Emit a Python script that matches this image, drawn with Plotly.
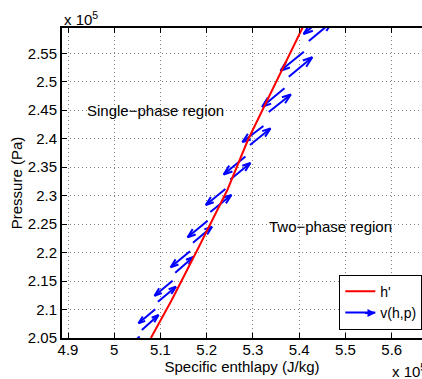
import plotly.graph_objects as go

SCALE = 1e5  # axis values are shown in units of 10^5

# Saturated-liquid enthalpy line h'(p) (units of 1e5)
p_sat = [2.05, 2.1167, 2.2045, 2.3099, 2.3977, 2.5939, 2.60]
h_sat = [5.0792, 5.1243, 5.1796, 5.2446, 5.2890, 5.4065, 5.4102]

# Vector field v(h,p): arrow tail positions and components (units of 1e5)
q_h = [5.0550, 5.0886, 5.0597, 5.1261, 5.0944, 5.1638, 5.1319, 5.2019, 5.1703,
       5.2403, 5.2078, 5.2836, 5.2511, 5.3226, 5.2934, 5.3681, 5.3341, 5.4100,
       5.3775, 5.4592, 5.4208]
q_p = [2.0526, 2.1004, 2.0640, 2.1506, 2.1138, 2.2024, 2.1647, 2.2560, 2.2174,
       2.3117, 2.2713, 2.3688, 2.3284, 2.4223, 2.3890, 2.4885, 2.4469, 2.5528,
       2.5089, 2.6173, 2.5716]
q_dh = [-0.0360, -0.0362, 0.0360, -0.0390, 0.0390, -0.0418, 0.0390, -0.0433, 0.0412,
        -0.0423, 0.0455, -0.0470, 0.0433, -0.0455, 0.0444, -0.0483, 0.0477, -0.0505,
        0.0507, -0.0498, 0.0509]
q_dp = [-0.0250, -0.0246, 0.0263, -0.0263, 0.0263, -0.0281, 0.0276, -0.0292, 0.0281,
        -0.0281, 0.0299, -0.0316, 0.0290, -0.0281, 0.0290, -0.0323, 0.0307, -0.0334,
        0.0341, -0.0334, 0.0342]

x_ticks = [4.9, 5.0, 5.1, 5.2, 5.3, 5.4, 5.5, 5.6]
x_ticklabels = ["4.9", "5", "5.1", "5.2", "5.3", "5.4", "5.5", "5.6"]
y_ticks = [2.05, 2.10, 2.15, 2.20, 2.25, 2.30, 2.35, 2.40, 2.45, 2.50, 2.55]
y_ticklabels = ["2.05", "2.1", "2.15", "2.2", "2.25", "2.3", "2.35", "2.4", "2.45", "2.5", "2.55"]

x_range = [4.887, 5.6655]
y_range = [2.05, 2.5944]

# Build quiver line segments (MATLAB-style open arrowheads)
alpha, beta = 0.33, 0.33
qx, qy = [], []
for h, p, u, v in zip(q_h, q_p, q_dh, q_dp):
    x1, y1 = h + u, p + v
    b1 = (x1 - alpha * (u + beta * v), y1 - alpha * (v - beta * u))
    b2 = (x1 - alpha * (u - beta * v), y1 - alpha * (v + beta * u))
    qx += [h, x1, None, b1[0], x1, b2[0], None]
    qy += [p, y1, None, b1[1], y1, b2[1], None]

fig = go.Figure()
fig.add_trace(go.Scatter(
    x=[x * SCALE if x is not None else None for x in qx],
    y=[y * SCALE if y is not None else None for y in qy],
    mode="lines", line=dict(color="#0000ff", width=2),
    name="v(h,p)", legendrank=2, hoverinfo="skip"))
fig.add_trace(go.Scatter(
    x=[h * SCALE for h in h_sat], y=[p * SCALE for p in p_sat],
    mode="lines", line=dict(color="#ff0000", width=2),
    name="h'", legendrank=1))

font = dict(family="Liberation Sans, Arial, sans-serif", size=15, color="black")
legend_font = dict(family="Liberation Sans, Arial, sans-serif", size=14, color="black")

axis_common = dict(
    showline=True, linecolor="black", linewidth=2,
    ticks="inside", ticklen=5, tickcolor="black", tickwidth=1,
    showgrid=True, gridcolor="#808080", gridwidth=1, griddash="1px,3px",
    zeroline=False, tickfont=font, automargin=False,
)

fig.update_layout(
    width=422, height=379,
    margin=dict(l=62, r=0, t=28, b=41, autoexpand=False),
    paper_bgcolor="white", plot_bgcolor="white",
    font=font,
    xaxis=dict(range=[v * SCALE for v in x_range],
               tickvals=[v * SCALE for v in x_ticks], ticktext=x_ticklabels,
               mirror="ticks", ticklabelstandoff=-3,
               title=dict(text="Specific enthlapy (J/kg)", font=font, standoff=2),
               **axis_common),
    yaxis=dict(range=[v * SCALE for v in y_range],
               tickvals=[v * SCALE for v in y_ticks], ticktext=y_ticklabels,
               mirror=False,
               title=dict(text="Pressure (Pa)", font=font, standoff=2),
               **axis_common),
    legend=dict(x=0.7703, y=0.2042, xanchor="left", yanchor="top",
                bgcolor="white", bordercolor="black", borderwidth=1,
                font=legend_font, itemwidth=30, tracegroupgap=0),
    showlegend=True,
)

fig.add_annotation(text="Single\u2212phase region", x=4.936 * SCALE, y=2.45 * SCALE,
                   xref="x", yref="y", xanchor="left", yanchor="middle",
                   showarrow=False, font=font)
fig.add_annotation(text="Two\u2212phase region", x=5.33 * SCALE, y=2.246 * SCALE,
                   xref="x", yref="y", xanchor="left", yanchor="middle",
                   showarrow=False, font=font)
fig.add_annotation(text="x 10<sup>5</sup>", x=0, y=1, xref="paper", yref="paper",
                   xanchor="left", yanchor="bottom", yshift=-2, showarrow=False, font=font)
fig.add_annotation(text="x 10<sup>5</sup>", x=0.9111, y=-0.1435, xref="paper", yref="paper",
                   xanchor="left", yanchor="bottom", showarrow=False, font=font)
# arrowhead on the legend's v(h,p) sample line
fig.add_annotation(text="", x=0.8708, y=0.0806, xref="paper", yref="paper",
                   showarrow=True, ax=-12, ay=0, arrowhead=2, arrowsize=0.8,
                   arrowwidth=2, arrowcolor="#0000ff", standoff=0)

fig.write_html("out.html", config={"displayModeBar": False},
               post_script="document.body.style.margin='0';")
